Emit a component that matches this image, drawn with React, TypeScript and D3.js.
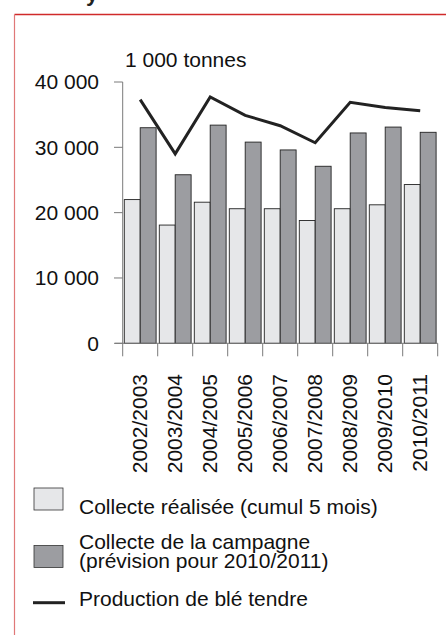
import React from "react";
import * as d3 from "d3";

const categories = [
  "2002/2003", "2003/2004", "2004/2005", "2005/2006", "2006/2007",
  "2007/2008", "2008/2009", "2009/2010", "2010/2011",
];
const collecteRealisee = [22.0, 18.1, 21.6, 20.6, 20.6, 18.8, 20.6, 21.2, 24.3].map((v) => v * 1000);
const collecteCampagne = [33.0, 25.8, 33.4, 30.8, 29.6, 27.1, 32.2, 33.1, 32.3].map((v) => v * 1000);
const production = [37.3, 29.0, 37.7, 34.9, 33.3, 30.7, 36.9, 36.1, 35.6].map((v) => v * 1000);
const yTicks = [0, 10000, 20000, 30000, 40000];
const unitLabel = "1 000 tonnes";
const legendLabels = [
  ["Collecte réalisée (cumul 5 mois)"],
  ["Collecte de la campagne", "(prévision pour 2010/2011)"],
  ["Production de blé tendre"],
];

const W = 446;
const H = 635;
const FONT = "'Liberation Sans', Arial, Helvetica, sans-serif";
const FS = 21;

export default function App() {
  const x0 = 122.7;
  const x1 = 437.7;
  const x = d3.scaleBand<string>().domain(categories).range([x0, x1]).paddingInner(0).paddingOuter(0);
  const y = d3.scaleLinear().domain([0, 40000]).range([343.3, 82]);
  const inner = d3.scaleBand<string>().domain(["a", "b"]).range([0, x.bandwidth()]).paddingOuter(0.1).paddingInner(0);
  const fmt = (v: number) => d3.format(",")(v).replace(/,/g, " ");
  const line = d3
    .line<number>()
    .x((_, i) => (x(categories[i]) as number) + x.bandwidth() / 2)
    .y((d) => y(d));

  const axisColor = "#7a7a7a";
  const lightFill = "#e6e7e9";
  const darkFill = "#9c9da1";

  return (
    <svg width={W} height={H} style={{ position: "absolute", left: 0, top: 0, background: "#fff" }} fontFamily={FONT}>
      {/* cut-off title descender */}
      <text x={86} y={1} fontSize={22} fontWeight="bold" fill="#222">y</text>
      {/* frame */}
      <line x1={14.5} y1={14.5} x2={W} y2={14.5} stroke="#d02a2a" strokeWidth={1.5} />
      <line x1={14.5} y1={14.5} x2={14.5} y2={H} stroke="#e07878" strokeWidth={1.2} />

      {/* unit */}
      <text x={125} y={66.5} fontSize={FS} fill="#111">{unitLabel}</text>

      {/* y axis */}
      <line x1={x0} y1={y(40000)} x2={x0} y2={y(0)} stroke={axisColor} strokeWidth={1} />
      {yTicks.map((t) => (
        <g key={t}>
          <line x1={114} x2={x0} y1={y(t)} y2={y(t)} stroke={axisColor} strokeWidth={1} />
          <text x={99} y={y(t)} dy="0.35em" textAnchor="end" fontSize={FS} fill="#111">{fmt(t)}</text>
        </g>
      ))}

      {/* bars */}
      {categories.map((c, i) => {
        const bx = x(c) as number;
        return (
          <g key={c}>
            <rect x={bx + (inner("a") as number)} y={y(collecteRealisee[i])} width={inner.bandwidth()} height={y(0) - y(collecteRealisee[i])} fill={lightFill} stroke="#222" strokeWidth={0.9} />
            <rect x={bx + (inner("b") as number)} y={y(collecteCampagne[i])} width={inner.bandwidth()} height={y(0) - y(collecteCampagne[i])} fill={darkFill} stroke="#222" strokeWidth={0.9} />
          </g>
        );
      })}

      {/* x axis */}
      <line x1={115} x2={x1} y1={y(0)} y2={y(0)} stroke={axisColor} strokeWidth={1} />
      {[...categories.map((c) => x(c) as number), x1].map((tx, i) => (
        <line key={i} x1={tx} x2={tx} y1={y(0)} y2={y(0) + 13} stroke={axisColor} strokeWidth={1} />
      ))}
      {categories.map((c) => {
        const cx = (x(c) as number) + x.bandwidth() / 2 - 1;
        return (
          <text key={c} transform={`translate(${cx},374) rotate(-90)`} textAnchor="end" dy="0.36em" fontSize={FS} fill="#111">{c}</text>
        );
      })}

      {/* production line */}
      <path d={line(production) as string} fill="none" stroke="#222" strokeWidth={3} strokeLinejoin="miter" />

      {/* legend */}
      <rect x={34} y={488} width={29} height={22} fill={lightFill} stroke="#333" strokeWidth={0.8} />
      <text x={79} y={514} fontSize={FS} fill="#111">{legendLabels[0][0]}</text>
      <rect x={34} y={545.5} width={29} height={22} fill={darkFill} stroke="#333" strokeWidth={0.8} />
      <text x={79} y={549} fontSize={FS} fill="#111">{legendLabels[1][0]}</text>
      <text x={79} y={567.5} fontSize={FS} fill="#111">{legendLabels[1][1]}</text>
      <line x1={33} x2={65} y1={602.7} y2={602.7} stroke="#222" strokeWidth={3} />
      <text x={79} y={606} fontSize={FS} fill="#111">{legendLabels[2][0]}</text>
    </svg>
  );
}
